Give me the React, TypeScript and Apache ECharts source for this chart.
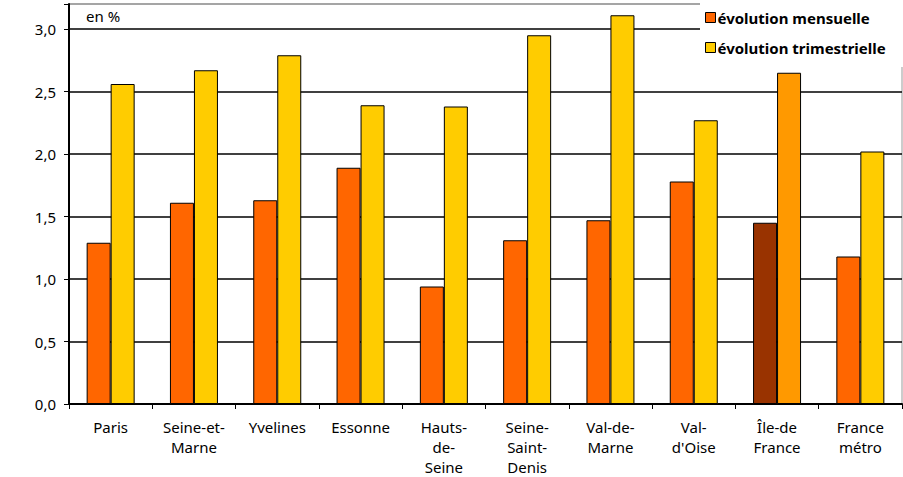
import React, { useEffect, useRef } from "react";
import * as echarts from "echarts";

const categories = [
  "Paris",
  "Seine-et-\nMarne",
  "Yvelines",
  "Essonne",
  "Hauts-\nde-\nSeine",
  "Seine-\nSaint-\nDenis",
  "Val-de-\nMarne",
  "Val-\nd'Oise",
  "Île-de\nFrance",
  "France\nmétro",
];
const mensuelle = [1.29, 1.61, 1.63, 1.89, 0.94, 1.31, 1.47, 1.78, 1.45, 1.18];
const trimestrielle = [2.56, 2.67, 2.79, 2.39, 2.38, 2.95, 3.11, 2.27, 2.65, 2.02];
const highlightIndex = 8;

const FONT = "'Noto Sans', 'DejaVu Sans', sans-serif";

export default function App() {
  const ref = useRef<HTMLDivElement>(null);
  useEffect(() => {
    if (!ref.current) return;
    const chart = echarts.init(ref.current, undefined, { renderer: "svg" });
    const mData = mensuelle.map((v, i) =>
      i === highlightIndex ? { value: v, itemStyle: { color: "#993300" } } : v
    );
    const tData = trimestrielle.map((v, i) =>
      i === highlightIndex ? { value: v, itemStyle: { color: "#FF9900" } } : v
    );
    chart.setOption({
      animation: false,
      textStyle: { fontFamily: FONT },
      grid: {
        left: 69,
        right: 1,
        top: 4,
        bottom: 72,
        show: true,
        borderColor: "#999",
        borderWidth: 1,
      },
      legend: {
        orient: "vertical",
        left: 700,
        top: 0,
        width: 203,
        height: 66,
        padding: [10, 20, 12, 5],
        itemGap: 15,
        itemWidth: 10,
        itemHeight: 10,
        backgroundColor: "#fff",
        icon: "rect",
        itemStyle: { borderColor: "#000", borderWidth: 1 },
        textStyle: { fontFamily: FONT, fontSize: 15, fontWeight: 700, color: "#000", padding: [0, 0, 0, -3] },
        selectedMode: false,
        z: 10,
      },
      xAxis: {
        type: "category",
        data: categories,
        axisLine: { lineStyle: { color: "#000", width: 2 } },
        axisTick: { show: true, length: 5, lineStyle: { color: "#000", width: 1 } },
        axisLabel: {
          interval: 0,
          fontFamily: FONT,
          fontSize: 15,
          lineHeight: 20,
          color: "#000",
          margin: 13,
        },
      },
      yAxis: {
        type: "value",
        min: 0,
        max: 3.2,
        interval: 0.5,
        axisLine: { show: true, lineStyle: { color: "#000", width: 2 } },
        axisTick: { show: true, length: 5, lineStyle: { color: "#000", width: 1 } },
        axisLabel: {
          fontFamily: FONT,
          fontSize: 15,
          color: "#000",
          margin: 13,
          formatter: (v: number) =>
            Math.abs(v * 2 - Math.round(v * 2)) < 1e-6 ? v.toFixed(1).replace(".", ",") : "",
        },
        splitLine: {
          show: true,
          lineStyle: {
            color: ["#000", "#000", "#000", "#000", "#000", "#000", "#000", "#999"],
            width: 1.5,
          },
        },
      },
      graphic: [
        {
          type: "text",
          left: 86,
          top: 8,
          style: { text: "en %", fontFamily: FONT, fontSize: 15, fill: "#000" },
          z: 5,
        },
      ],
      series: [
        {
          name: "évolution mensuelle",
          type: "bar",
          data: mData,
          barWidth: 24,
          barGap: "0%",
          itemStyle: { color: "#FF6600", borderColor: "#000", borderWidth: 1 },
        },
        {
          name: "évolution trimestrielle",
          type: "bar",
          data: tData,
          barWidth: 24,
          itemStyle: { color: "#FFCC00", borderColor: "#000", borderWidth: 1 },
        },
      ],
    });
    return () => chart.dispose();
  }, []);
  return (
    <div
      ref={ref}
      style={{ position: "absolute", left: 0, top: 0, width: 903, height: 477 }}
    />
  );
}
